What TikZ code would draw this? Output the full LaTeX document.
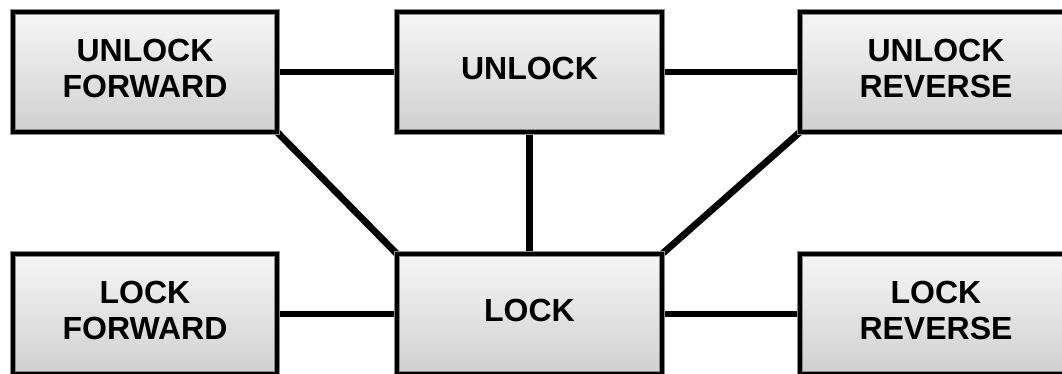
\documentclass[tikz,border=0pt]{standalone}
\usepackage{fontspec}
\setmainfont{Liberation Sans}
\usetikzlibrary{backgrounds}
\definecolor{boxtop}{HTML}{F6F6F6}
\definecolor{boxbot}{HTML}{D0D0D0}
\definecolor{rim}{HTML}{8A8A8A}
\tikzset{
  statebox/.style={
    rectangle, outer sep=0pt, inner sep=0pt,
    minimum height=120pt, text depth=7pt,
    top color=boxtop, bottom color=boxbot,
    draw=rim, line width=0.8pt, double=black, double distance=4.6pt,
    font=\bfseries\fontsize{32}{36}\selectfont, align=center, text=black
  },
  link/.style={line width=6.8pt, black}
}
\begin{document}
\begin{tikzpicture}[x=1pt, y=-1pt]
  \useasboundingbox (0,0) rectangle (1062,373);
  \clip (0,0) rectangle (1062,373);
  % upper row
  \node[statebox, minimum width=264pt] (uf) at (145,72)   {UNLOCK\\FORWARD};
  \node[statebox, minimum width=265pt] (un) at (529.5,72) {UNLOCK};
  \node[statebox, minimum width=272pt] (ur) at (936,72)   {UNLOCK\\REVERSE};
  % lower row
  \node[statebox, minimum width=264pt] (lf) at (145,314)   {LOCK\\FORWARD};
  \node[statebox, minimum width=265pt] (lk) at (529.5,314) {LOCK};
  \node[statebox, minimum width=272pt] (lr) at (936,314)   {LOCK\\REVERSE};
  % connectors behind the boxes
  \begin{scope}[on background layer]
    \draw[link] (uf.east) -- (un.west);
    \draw[link] (un.east) -- (ur.west);
    \draw[link] (un.south) -- (lk.north);
    \draw[link] (uf.south east) -- (lk.north west);
    \draw[link] (ur.south west) -- (lk.north east);
    \draw[link] (lf.east) -- (lk.west);
    \draw[link] (lk.east) -- (lr.west);
  \end{scope}
\end{tikzpicture}
\end{document}
